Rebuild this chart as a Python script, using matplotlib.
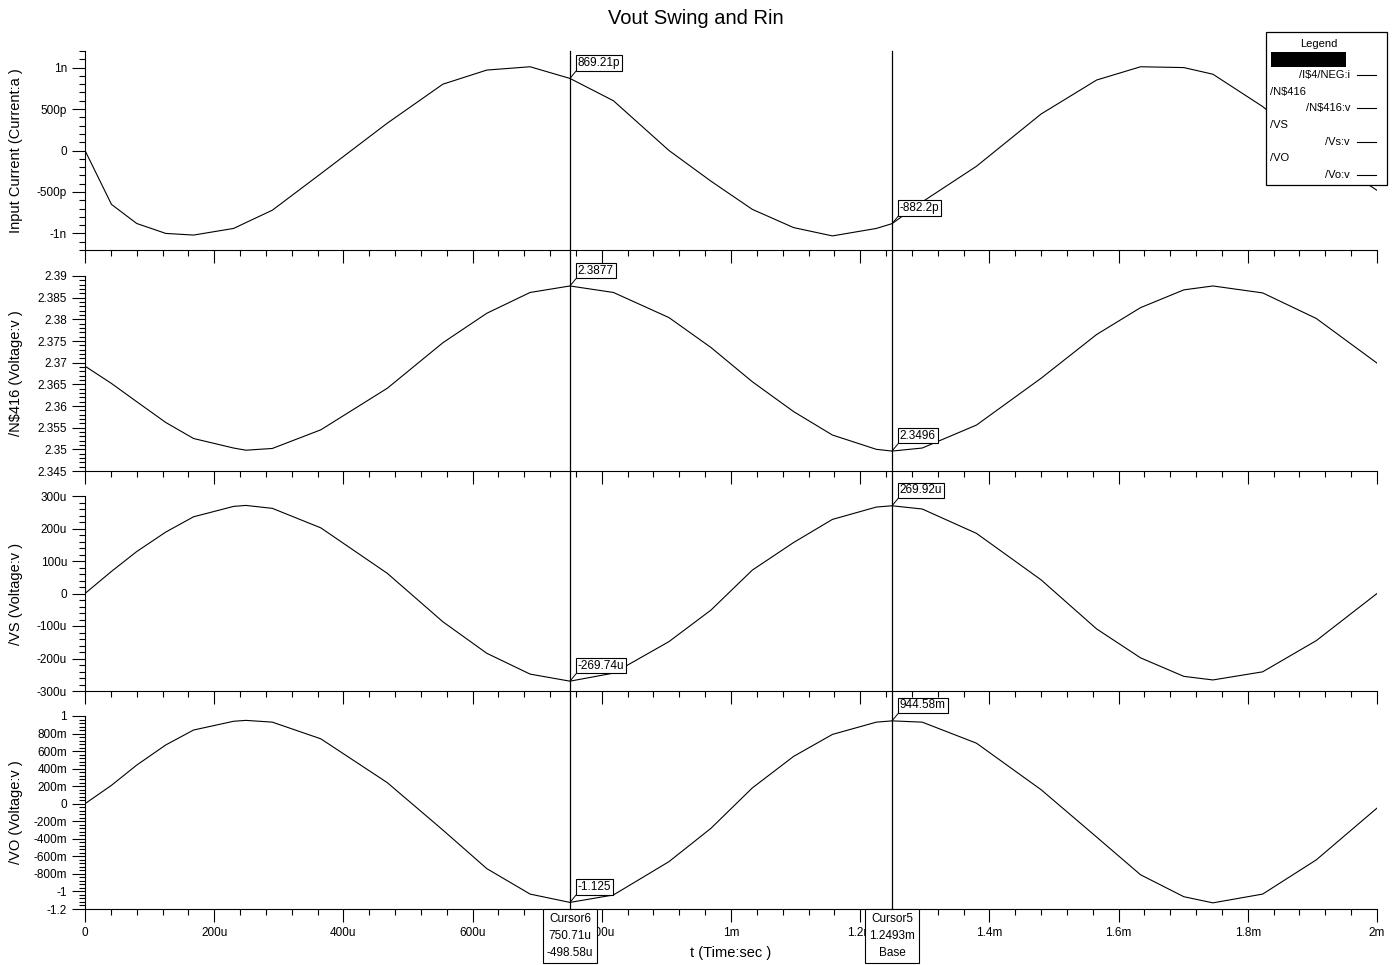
import matplotlib
matplotlib.use("Agg")
import matplotlib.pyplot as plt
from matplotlib.ticker import FixedLocator, FixedFormatter, MultipleLocator
from matplotlib.transforms import blended_transform_factory
from matplotlib.lines import Line2D
from matplotlib.patches import Rectangle

# ---- data ----
# time in microseconds
t_us = [0, 41, 80, 125, 168, 230, 249, 290, 365, 468, 554, 622, 689, 750.71,
        818, 904, 969, 1033, 1097, 1157, 1225, 1249.3, 1296, 1380, 1480, 1566,
        1634, 1701, 1746, 1823, 1906, 2000]

# input current, nA
i_in_n = [0.0, -0.65, -0.88, -1.00, -1.02, -0.94, -0.87, -0.72, -0.28, 0.33,
          0.80, 0.97, 1.01, 0.86921, 0.60, 0.0, -0.37, -0.71, -0.93, -1.03,
          -0.94, -0.8822, -0.62, -0.19, 0.44, 0.85, 1.01, 1.00, 0.92, 0.53,
          0.0, -0.48]

# /N$416, V
v_n416 = [2.3692, 2.3652, 2.3610, 2.3562, 2.3525, 2.3503, 2.3498, 2.3502,
          2.3545, 2.3641, 2.3746, 2.3814, 2.3862, 2.3877, 2.3862, 2.3804,
          2.3735, 2.3656, 2.3587, 2.3533, 2.3500, 2.3496, 2.3503, 2.3556,
          2.3664, 2.3765, 2.3827, 2.3868, 2.3877, 2.3861, 2.3802, 2.3699]

# /VS, uV
v_s_u = [0, 68, 129, 189, 236, 268, 271, 262, 202, 62, -87, -184, -248,
         -269.74, -245, -148, -51, 72, 157, 228, 266, 269.92, 260, 185, 42,
         -109, -198, -255, -266, -241, -145, 0]

# /VO, V
v_o = [0.0, 0.21, 0.44, 0.67, 0.84, 0.94, 0.95, 0.93, 0.74, 0.24, -0.30,
       -0.74, -1.03, -1.125, -1.04, -0.66, -0.28, 0.18, 0.54, 0.79, 0.93,
       0.94458, 0.93, 0.69, 0.16, -0.38, -0.81, -1.06, -1.13, -1.03, -0.64,
       -0.05]

x_ticks = [0, 200, 400, 600, 800, 1000, 1200, 1400, 1600, 1800, 2000]
x_labels = ["0", "200u", "400u", "600u", "800u", "1m", "1.2m", "1.4m", "1.6m", "1.8m", "2m"]

cursor_t = [750.71, 1249.3]
cursor_idx = [13, 21]
cursor_text = ["Cursor6\n750.71u\n-498.58u", "Cursor5\n1.2493m\nBase"]

panels = [
    dict(y=i_in_n, ylim=(-1.2, 1.2), ticks=[-1, -0.5, 0, 0.5, 1],
         labels=["-1n", "-500p", "0", "500p", "1n"], minor=0.1,
         ylabel="Input Current (Current:a )", marks=["869.21p", "-882.2p"]),
    dict(y=v_n416, ylim=(2.345, 2.39),
         ticks=[2.345, 2.35, 2.355, 2.36, 2.365, 2.37, 2.375, 2.38, 2.385, 2.39],
         labels=["2.345", "2.35", "2.355", "2.36", "2.365", "2.37", "2.375",
                 "2.38", "2.385", "2.39"], minor=0.001,
         ylabel="/N$416 (Voltage:v )", marks=["2.3877", "2.3496"]),
    dict(y=v_s_u, ylim=(-300, 300), ticks=[-300, -200, -100, 0, 100, 200, 300],
         labels=["-300u", "-200u", "-100u", "0", "100u", "200u", "300u"], minor=20,
         ylabel="/VS (Voltage:v )", marks=["-269.74u", "269.92u"]),
    dict(y=v_o, ylim=(-1.2, 1.0),
         ticks=[-1.2, -1, -0.8, -0.6, -0.4, -0.2, 0, 0.2, 0.4, 0.6, 0.8, 1],
         labels=["-1.2", "-1", "-800m", "-600m", "-400m", "-200m", "0", "200m",
                 "400m", "600m", "800m", "1"], minor=0.04,
         ylabel="/VO (Voltage:v )", marks=["-1.125", "944.58m"]),
]

# ---- layout ----
W, H = 1397, 965
plt.rcParams.update({
    "font.family": ["Liberation Sans", "DejaVu Sans"],
    "font.size": 8.5,
    "axes.linewidth": 0.8,
    "text.usetex": False,
})

fig = plt.figure(figsize=(W / 100, H / 100), dpi=100)
fig.patch.set_facecolor("white")


def fpos(x, y):
    return x / W, 1 - y / H


left, right = 85, 1377
rows = [(51, 250), (276, 471), (496, 691), (716, 909)]
axes = []
for (top, bot), p in zip(rows, panels):
    ax = fig.add_axes([left / W, 1 - bot / H, (right - left) / W, (bot - top) / H])
    ax.plot(t_us, p["y"], color="black", lw=0.8)
    ax.set_xlim(0, 2000)
    ax.set_ylim(*p["ylim"])
    for s in ("top", "right"):
        ax.spines[s].set_visible(False)
    ax.yaxis.set_major_locator(FixedLocator(p["ticks"]))
    ax.yaxis.set_major_formatter(FixedFormatter(p["labels"]))
    ax.yaxis.set_minor_locator(MultipleLocator(p["minor"]))
    ax.xaxis.set_major_locator(FixedLocator(x_ticks))
    ax.xaxis.set_minor_locator(MultipleLocator(40))
    ax.tick_params(which="major", direction="out", length=9.4, width=0.8, pad=3.5,
                   labelsize=8.5)
    ax.tick_params(which="minor", direction="out", length=4.6, width=0.8)
    ax.set_ylabel(p["ylabel"], fontsize=10.5)
    ax.yaxis.set_label_coords(-0.048, 0.5)
    ax.patch.set_alpha(0)

    # value markers at the cursors
    for i, txt in zip(cursor_idx, p["marks"]):
        ax.annotate(txt, xy=(t_us[i], p["y"][i]), xytext=(5.6, 6.8),
                    textcoords="offset points", ha="left", va="bottom", fontsize=8.5,
                    bbox=dict(boxstyle="square,pad=0.15", fc="white", ec="black", lw=0.8),
                    arrowprops=dict(arrowstyle="-", lw=0.7, color="black",
                                    shrinkA=0, shrinkB=0, relpos=(0, 0)),
                    zorder=6)
    axes.append(ax)

for ax in axes[:-1]:
    ax.tick_params(labelbottom=False)
ax4 = axes[-1]
ax4.xaxis.set_major_formatter(FixedFormatter(x_labels))
ax4.set_xlabel("t (Time:sec )", fontsize=10.5, labelpad=5)

# cursors: vertical lines through all panels, readout boxes below
ytop = 1 - rows[0][0] / H
ybot = 1 - rows[-1][1] / H
trans = blended_transform_factory(ax4.transData, fig.transFigure)
for tc, txt in zip(cursor_t, cursor_text):
    fig.add_artist(Line2D([tc, tc], [ybot, ytop], transform=trans, color="black",
                          lw=0.9, zorder=4))
    ax4.text(tc, ybot - 4 / H, txt, transform=trans, ha="center", va="top",
             fontsize=8.5, linespacing=1.55, zorder=7,
             bbox=dict(boxstyle="square,pad=0.35", fc="white", ec="black", lw=0.8))

# title
fig.text(*fpos(W / 2 - 3, 19), "Vout Swing and Rin", ha="center", va="center", fontsize=14.5)

# legend box
x0, y0 = fpos(1266, 185)
x1, y1 = fpos(1387, 32)
fig.add_artist(Rectangle((x0, y0), x1 - x0, y1 - y0, transform=fig.transFigure,
                         fc="white", ec="black", lw=0.9, zorder=10))
bx, by = fpos(1271, 67)
bx2, by2 = fpos(1346, 52)
fig.add_artist(Rectangle((bx, by), bx2 - bx, by2 - by, transform=fig.transFigure,
                         fc="black", ec="black", lw=0, zorder=11))
fig.text(*fpos(1319, 44), "Legend", ha="center", va="center", fontsize=8, zorder=12)
legend_rows = [
    ("/I$4/NEG:i", "right", 75),
    ("/N$416", "left", 92),
    ("/N$416:v", "right", 108),
    ("/VS", "left", 125),
    ("/Vs:v", "right", 142),
    ("/VO", "left", 158),
    ("/Vo:v", "right", 175),
]
for txt, side, yy in legend_rows:
    if side == "left":
        fig.text(*fpos(1270, yy), txt, ha="left", va="center", fontsize=8, zorder=12)
    else:
        fig.text(*fpos(1350, yy), txt, ha="right", va="center", fontsize=8, zorder=12)
        lx0, ly = fpos(1357, yy)
        lx1, _ = fpos(1376, yy)
        fig.add_artist(Line2D([lx0, lx1], [ly, ly], transform=fig.transFigure,
                              color="black", lw=0.8, zorder=12))

fig.savefig("out.png", dpi=100, facecolor="white")
plt.close(fig)
